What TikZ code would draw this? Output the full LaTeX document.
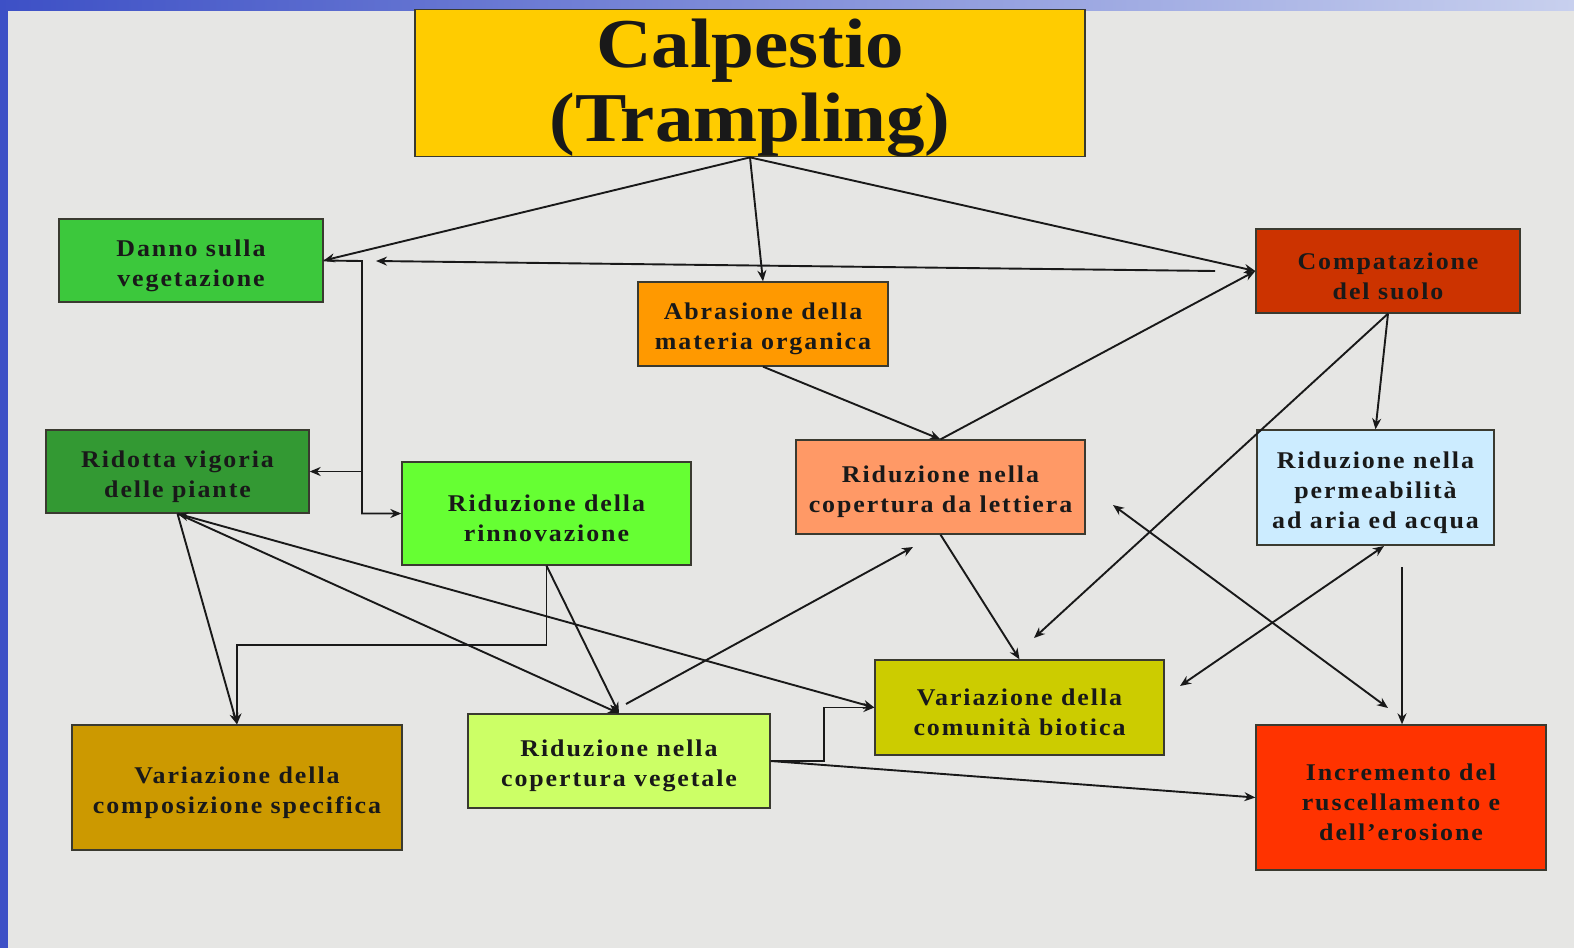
\documentclass[tikz,border=0pt]{standalone}
\usepackage{fontspec}
\usetikzlibrary{arrows.meta}

\newfontfamily\boxfont{Liberation Serif}[FakeStretch=1.08,LetterSpace=8]
\newfontfamily\titlefont{Liberation Serif}[FakeStretch=1.1]
\newcommand{\topstrut}{\rule{0pt}{27pt}}

\definecolor{bgpaper}{HTML}{E6E6E4}
\definecolor{frameblue}{HTML}{3D50C6}
\definecolor{framepale}{HTML}{C8D0EE}
\definecolor{boxline}{HTML}{3A3A30}
\definecolor{cTitle}{HTML}{FFCC00}
\definecolor{cDanno}{HTML}{3CC83C}
\definecolor{cAbras}{HTML}{FF9900}
\definecolor{cCompat}{HTML}{CC3300}
\definecolor{cRidotta}{HTML}{339933}
\definecolor{cRinnov}{HTML}{66FF33}
\definecolor{cLettiera}{HTML}{FF9966}
\definecolor{cPermeab}{HTML}{CCECFF}
\definecolor{cComposiz}{HTML}{CC9900}
\definecolor{cCopveg}{HTML}{CCFF66}
\definecolor{cComunita}{HTML}{CCCC00}
\definecolor{cIncrem}{HTML}{FF3300}

\begin{document}
\begin{tikzpicture}[
        x=1pt, y=-1pt,
        box/.style={rectangle, draw=boxline, line width=1.3pt, align=center, inner sep=0pt, text=black!90, font=\boxfont\bfseries\fontsize{24}{30}\selectfont},
        link/.style={line width=1.9pt, draw=black!90, -{Stealth[length=11pt,width=9pt]}},
        both/.style={link, {Stealth[length=11pt,width=9pt]}-{Stealth[length=11pt,width=9pt]}}
    ]
        % Background and frame
        \useasboundingbox (0,0) rectangle (1574,948);
        \fill[bgpaper] (0,0) rectangle (1574,948);
        \fill[frameblue] (0,0) rectangle (8,948);
        \shade[left color=frameblue, right color=framepale] (0,0) rectangle (1574,10);

        % Title node
        \node[box, fill=cTitle, minimum width=670pt, minimum height=146pt, font=\titlefont\bfseries\fontsize{70}{74}\selectfont] (title) at (750,83) {\rule{0pt}{58pt}Calpestio\\(Trampling)};

        % First row
        \node[box, fill=cDanno, minimum width=264pt, minimum height=83pt] (danno) at (191,260.5) {\topstrut Danno sulla\\vegetazione};
        \node[box, fill=cAbras, minimum width=250pt, minimum height=84pt] (abrasione) at (763,324) {\topstrut Abrasione della\\materia organica};
        \node[box, fill=cCompat, minimum width=264pt, minimum height=84pt] (compat) at (1388,271) {\topstrut Compatazione\\del suolo};

        % Second row
        \node[box, fill=cRidotta, minimum width=263pt, minimum height=83pt] (ridotta) at (177.5,471.5) {\topstrut Ridotta vigoria\\delle piante};
        \node[box, fill=cRinnov, minimum width=289pt, minimum height=103pt] (rinnov) at (546.5,513.5) {\topstrut Riduzione della\\rinnovazione};
        \node[box, fill=cLettiera, minimum width=289pt, minimum height=94pt] (lettiera) at (940.5,487) {\topstrut Riduzione nella\\copertura da lettiera};
        \node[box, fill=cPermeab, minimum width=237pt, minimum height=115pt] (permeab) at (1375.5,487.5) {\topstrut Riduzione nella\\permeabilità\\ad aria ed acqua};

        % Bottom rows
        \node[box, fill=cComposiz, minimum width=330pt, minimum height=125pt] (composiz) at (237,787.5) {\topstrut Variazione della\\composizione specifica};
        \node[box, fill=cCopveg, minimum width=302pt, minimum height=94pt] (copveg) at (619,761) {\topstrut Riduzione nella\\copertura vegetale};
        \node[box, fill=cComunita, minimum width=289pt, minimum height=95pt] (comunita) at (1019.5,707.5) {\topstrut Variazione della\\comunità biotica};
        \node[box, fill=cIncrem, minimum width=290pt, minimum height=145pt] (incremento) at (1401,797.5) {\topstrut Incremento del\\ruscellamento e\\dell’erosione};

        % Free ends of some connectors
        \coordinate (backR) at (1215,271);
        \coordinate (backL) at (376,261);
        \coordinate (bend) at (362,261);
        \coordinate (compEnd) at (1034,638);
        \coordinate (letR) at (1113,505);
        \coordinate (incTop) at (1388,708);
        \coordinate (perBot) at (1384,546);
        \coordinate (comR) at (1180,686);
        \coordinate (perDrop) at (1402,567);
        \coordinate (vegUp) at (626,704);
        \coordinate (letBot) at (913,547);

        % Connectors from the title
        \draw[link] (title.south) -- (danno.east);
        \draw[link] (title.south) -- (abrasione.north);
        \draw[link] (title.south) -- (compat.west);
        \draw[link] (backR) -- (backL);

        % Connectors from the first row
        \draw[link] (danno.east) -- (bend) |- (rinnov.west);
        \draw[link] (bend |- ridotta.east) -- (ridotta.east);
        \draw[link] (abrasione.south) -- (lettiera.north);
        \draw[link] (lettiera.north) -- (compat.west);
        \draw[link] (compat.south) -- (permeab.north);
        \draw[link] (compat.south) -- (compEnd);

        % Connectors on the right
        \draw[link] (lettiera.south) -- (comunita.north);
        \draw[both] (letR) -- (incTop);
        \draw[both] (perBot) -- (comR);
        \draw[link] (perDrop) -- (perDrop |- incremento.north);

        % Connectors on the left
        \draw[link] (ridotta.south) -- (composiz.north);
        \draw[link] (ridotta.south) -- (copveg.north);
        \draw[both] (ridotta.south) -- (comunita.west);
        \draw[link] (rinnov.south) -- ++(0,79) -| (composiz.north);
        \draw[link] (rinnov.south) -- (copveg.north);
        \draw[link] (vegUp) -- (letBot);
        \draw[link] (copveg.east) -- ++(53,0) |- (comunita.west);
        \draw[link] (copveg.east) -- (incremento.west);

    \end{tikzpicture}
\end{document}
